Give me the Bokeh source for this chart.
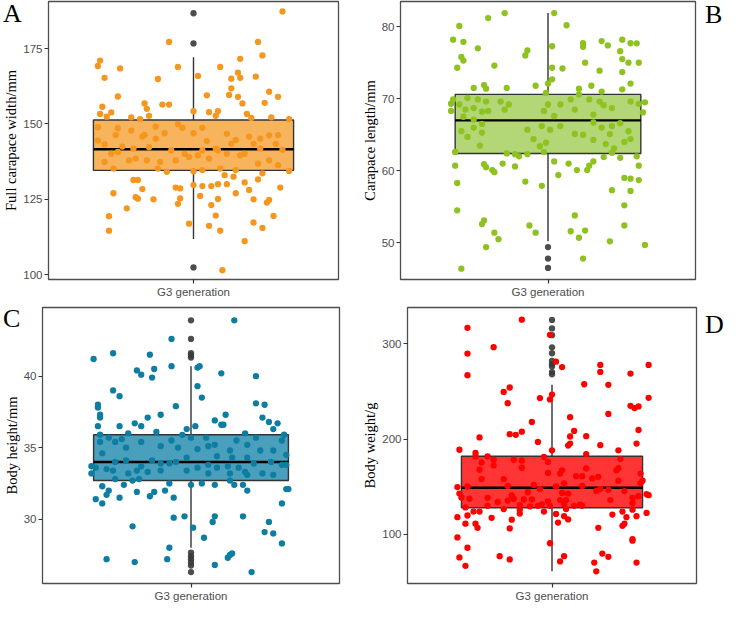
from bokeh.plotting import figure
from bokeh.models import Range1d, FixedTicker, Div
from bokeh.layouts import column, row
from bokeh.embed import file_html
from bokeh.resources import INLINE

category = "G3 generation"
panel_letters = ["A", "B", "C", "D"]

# ---------------- Panel A: Full carapace width/mm ----------------
a_label = "Full carapace width/mm"
a_ticks = [100, 125, 150, 175]
a_stats = dict(q1=134.6, med=141.6, q3=151.3, lo=111.8, hi=172.1)
a_out = [186.7, 176.7, 102.4]
a_jx = [0.40, -0.11, 0.29, -0.42, -0.43, 0.31, 0.21, -0.33, -0.07, 0.12, 0.20, 0.21, 0.02, 0.28, -0.40,
        -0.16, 0.17, 0.17, 0.34, 0.16, -0.34, 0.06, 0.20, 0.38, 0.22, 0.32, -0.22, -0.14, -0.11, -0.41,
        -0.21, 0.07, 0.11, 0.00, 0.24, -0.37, -0.42, -0.39, -0.20, -0.28, -0.24, 0.10, 0.26, 0.35, 0.43,
        -0.43, -0.34, -0.28, -0.17, -0.07, -0.05, 0.04, 0.00, -0.13, -0.22, -0.23, -0.35, 0.15, 0.25, 0.30,
        0.34, 0.38, -0.43, -0.17, 0.06, 0.19, 0.27, 0.37, -0.40, -0.32, -0.27, -0.20, -0.10, -0.04, 0.04,
        0.10, 0.11, 0.17, 0.23, 0.30, 0.40, -0.37, -0.34, -0.26, -0.21, -0.15, -0.08, -0.02, 0.02, 0.07,
        0.15, 0.21, 0.29, 0.34, 0.38, -0.40, -0.36, -0.29, -0.16, -0.12, 0.00, 0.04, 0.12, 0.19, 0.43,
        -0.27, -0.25, 0.14, 0.31, 0.18, 0.29, 0.23, 0.00, 0.04, 0.08, 0.11, 0.15, -0.08, -0.06, -0.23,
        0.25, 0.39, 0.19, -0.36, 0.03, -0.26, -0.25, -0.18, -0.06, 0.11, 0.27, 0.34, 0.33, -0.07, 0.08,
        -0.30, 0.10, -0.38, 0.36, 0.27, -0.02, 0.07, 0.31, -0.38, 0.12, 0.23, 0.13]
a_y = [187.3, 177.2, 177.2, 171.0, 169.2, 172.7, 171.6, 168.4, 168.9, 168.9, 167.0, 165.3, 165.9, 165.7, 165.3,
       164.9, 165.0, 161.8, 160.7, 159.6, 159.1, 159.5, 159.0, 159.0, 156.8, 157.0, 156.8, 156.4, 156.4, 155.7,
       155.0, 153.9, 154.2, 154.2, 153.3, 153.8, 153.3, 152.4, 152.7, 152.2, 151.6, 152.7, 152.0, 152.2, 151.6,
       148.9, 148.6, 147.8, 149.1, 150.0, 148.7, 148.7, 146.9, 146.9, 146.4, 145.8, 146.3, 146.7, 145.8, 145.1,
       146.2, 146.3, 144.5, 145.1, 144.3, 144.7, 143.4, 143.4, 143.2, 142.5, 141.8, 142.3, 141.2, 140.1, 141.2,
       141.8, 141.2, 143.4, 140.1, 141.8, 141.4, 140.1, 140.7, 138.5, 137.9, 137.4, 137.9, 139.0, 139.6, 138.5,
       140.1, 139.6, 136.8, 137.9, 136.3, 137.4, 135.2, 137.9, 135.2, 134.1, 134.3, 134.7, 135.2, 134.7, 134.4,
       131.4, 131.4, 133.0, 133.6, 132.5, 131.6, 130.6, 129.7, 129.4, 129.4, 130.0, 130.0, 128.9, 128.6, 128.4,
       128.1, 128.9, 127.0, 127.0, 126.1, 125.7, 125.2, 125.0, 125.3, 125.1, 125.0, 124.8, 123.9, 123.5, 123.1,
       122.0, 119.6, 119.4, 119.5, 117.3, 116.9, 116.2, 115.5, 114.6, 114.6, 111.1, 101.5]

# ---------------- Panel B: Carapace length/mm ----------------
b_label = "Carapace length/mm"
b_ticks = [50, 60, 70, 80]
b_stats = dict(q1=62.4, med=67.0, q3=70.6, lo=50.2, hi=81.9)
b_out = [49.4, 47.8, 46.5]
b_jx = [-0.21, 0.03, -0.29, -0.43, 0.09, -0.46, -0.41, 0.02, -0.34, 0.17, 0.17, 0.29, 0.26, 0.36, 0.40,
        0.43, 0.35, -0.10, -0.11, -0.42, -0.41, 0.36, 0.18, 0.39, 0.44, -0.44, -0.26, 0.02, 0.07, 0.25,
        0.36, 0.02, 0.40, 0.00, -0.36, -0.31, -0.30, -0.20, -0.06, 0.21, 0.15, 0.26, 0.36, -0.01, 0.15,
        -0.47, -0.46, -0.43, -0.39, -0.34, -0.30, -0.23, -0.19, 0.00, 0.06, 0.11, 0.20, 0.25, 0.27, 0.40,
        0.44, 0.47, -0.47, -0.40, -0.36, -0.32, -0.29, -0.21, -0.02, 0.13, 0.31, 0.46, -0.41, 0.03, 0.22,
        -0.36, -0.32, -0.03, 0.06, 0.22, 0.31, 0.35, -0.36, -0.32, -0.42, -0.39, -0.10, 0.01, 0.13, 0.17,
        0.26, 0.30, 0.39, -0.07, 0.22, 0.28, 0.37, 0.40, -0.33, -0.04, -0.01, 0.32, 0.31, -0.45, -0.20,
        -0.16, -0.14, -0.10, -0.02, 0.27, 0.35, 0.43, 0.03, 0.22, -0.31, -0.30, -0.22, 0.10, 0.20, -0.45,
        -0.16, 0.44, -0.27, -0.26, 0.14, 0.19, 0.05, 0.37, 0.40, 0.44, -0.11, -0.44, -0.03, 0.31, 0.40,
        0.37, -0.44, 0.13, -0.31, -0.32, -0.09, 0.37, 0.11, 0.18, -0.06, -0.26, -0.24, 0.15, 0.30, 0.47,
        -0.30, 0.17, -0.42]
b_y = [81.9, 81.9, 81.2, 80.1, 80.2, 78.2, 77.9, 77.3, 77.0, 77.7, 77.2, 77.4, 78.0, 78.2, 77.7,
       77.7, 76.6, 76.7, 76.0, 75.8, 75.3, 75.5, 75.0, 75.0, 75.0, 74.3, 74.6, 74.3, 74.2, 73.9,
       73.7, 72.7, 72.1, 72.1, 71.5, 71.9, 71.4, 71.5, 71.8, 71.8, 71.4, 71.0, 71.3, 70.8, 70.6,
       69.3, 69.9, 69.2, 70.1, 69.9, 69.6, 69.6, 69.2, 69.2, 69.2, 69.9, 69.9, 69.6, 69.1, 69.6,
       69.3, 69.5, 68.3, 68.5, 68.7, 68.2, 68.3, 68.5, 68.3, 68.5, 68.7, 68.1, 67.5, 67.6, 67.8,
       67.1, 66.5, 66.2, 66.2, 66.7, 66.2, 66.6, 66.0, 65.3, 65.5, 64.7, 65.7, 65.7, 65.1, 65.0,
       66.0, 65.1, 65.5, 64.4, 64.3, 63.7, 64.0, 64.4, 63.5, 63.4, 63.9, 63.1, 62.5, 62.6, 62.4,
       62.3, 62.0, 62.3, 62.6, 61.9, 61.8, 62.0, 61.3, 61.3, 60.9, 60.5, 61.0, 61.0, 60.7, 60.7,
       60.6, 60.7, 60.1, 59.8, 60.1, 60.1, 59.4, 59.0, 58.9, 58.7, 58.5, 58.3, 57.9, 57.3, 57.2,
       55.2, 54.5, 53.8, 53.1, 52.6, 52.4, 52.4, 51.6, 51.7, 51.4, 51.4, 50.5, 50.7, 50.2, 49.7,
       49.4, 47.8, 46.4]

# ---------------- Panel C: Body height/mm ----------------
c_label = "Body height/mm"
c_ticks = [30, 35, 40]
c_stats = dict(q1=32.7, med=34.0, q3=35.9, lo=28.0, hi=40.7)
c_out = [43.9, 42.6, 41.6, 41.45, 41.3, 27.65, 27.4, 27.2, 26.97, 26.75, 26.3]
c_jx = [0.20, -0.09, -0.45, -0.36, -0.19, -0.09, 0.03, 0.04, -0.25, -0.23, -0.17, -0.18, 0.14, 0.30, 0.03,
        -0.36, -0.33, 0.05, -0.43, -0.43, 0.30, 0.34, -0.07, -0.14, 0.16, 0.33, -0.20, 0.11, 0.36, 0.40,
        -0.42, -0.42, -0.26, 0.14, 0.15, -0.23, -0.43, -0.33, 0.02, -0.02, 0.38, -0.16, -0.29, -0.42, -0.04,
        0.43, 0.25, -0.38, -0.32, -0.09, 0.00, 0.07, 0.21, 0.30, -0.23, -0.35, 0.11, 0.26, 0.42, -0.42,
        -0.30, -0.14, -0.06, 0.03, 0.08, 0.18, 0.32, 0.38, 0.44, -0.41, -0.02, 0.12, 0.19, 0.26, -0.46,
        -0.44, -0.39, -0.35, -0.30, -0.23, -0.18, -0.14, -0.10, -0.07, 0.03, 0.08, 0.12, 0.17, 0.22, 0.29,
        0.37, 0.42, 0.44, -0.46, -0.36, -0.29, -0.25, -0.20, -0.14, -0.02, 0.08, 0.18, 0.25, 0.26, 0.33,
        0.38, -0.35, -0.27, -0.24, -0.10, 0.00, 0.05, 0.11, 0.18, 0.20, 0.24, 0.26, -0.41, -0.38, -0.31,
        0.44, 0.45, -0.12, -0.17, -0.25, -0.44, -0.39, -0.33, -0.19, -0.08, -0.41, 0.42, -0.03, 0.11, 0.10,
        0.24, 0.36, -0.08, -0.27, 0.01, 0.34, 0.38, 0.42, 0.06, -0.10, 0.19, 0.18, 0.17, -0.39, -0.11,
        -0.26, 0.11, 0.28]
c_y = [43.9, 42.6, 41.2, 41.6, 41.5, 40.7, 40.6, 40.7, 40.4, 40.1, 40.5, 39.9, 40.2, 40.0, 39.3,
       39.0, 38.6, 38.5, 38.0, 37.8, 38.1, 38.0, 37.9, 37.3, 37.3, 37.1, 37.1, 36.9, 36.8, 36.7,
       37.3, 37.1, 36.7, 36.6, 36.6, 36.5, 36.5, 36.5, 36.5, 36.3, 36.3, 36.1, 36.0, 35.9, 35.9,
       35.9, 36.0, 35.7, 35.6, 35.5, 35.7, 35.7, 35.5, 35.7, 35.4, 35.4, 35.2, 35.2, 35.5, 35.4,
       35.0, 35.1, 35.0, 34.9, 35.1, 34.8, 34.8, 34.8, 34.5, 34.6, 34.3, 34.4, 34.3, 34.3, 33.7,
       33.6, 33.5, 34.0, 34.1, 33.7, 34.1, 33.9, 33.9, 34.0, 33.6, 33.8, 33.6, 33.7, 33.6, 33.9,
       34.0, 33.8, 33.8, 33.2, 33.4, 33.2, 33.4, 33.3, 33.4, 33.4, 33.2, 33.2, 33.3, 33.1, 33.2,
       33.1, 32.8, 32.7, 32.8, 32.5, 32.4, 32.5, 32.4, 32.7, 32.4, 32.4, 32.0, 32.3, 32.0, 32.4,
       32.1, 32.1, 32.0, 31.9, 31.9, 31.4, 31.7, 31.5, 31.6, 31.5, 31.1, 31.1, 30.2, 30.2, 29.8,
       30.2, 29.8, 30.1, 29.5, 29.4, 29.1, 29.0, 28.3, 28.7, 28.0, 27.6, 27.5, 27.3, 27.2, 27.2,
       27.0, 26.8, 26.3]

# ---------------- Panel D: Body weight/g ----------------
d_label = "Body weight/g"
d_ticks = [100, 200, 300]
d_stats = dict(q1=127.9, med=148.9, q3=182.0, lo=61.4, hi=256.9)
d_out = [325.0, 316.0, 309.0, 296.2, 290.0, 282.0, 278.6, 276.0, 270.3, 268.0]
d_jx = [-0.15, -0.42, -0.01, -0.29, -0.42, 0.02, 0.05, 0.24, 0.24, 0.48, 0.39, -0.42, 0.28, 0.16, -0.21,
        -0.24, 0.00, -0.06, -0.01, 0.48, -0.22, 0.39, 0.41, 0.43, 0.28, 0.09, -0.10, 0.11, 0.43, -0.15,
        -0.21, -0.18, 0.09, 0.17, -0.36, -0.07, 0.09, 0.08, 0.24, 0.42, -0.46, 0.00, 0.33, 0.17, -0.38,
        -0.38, -0.32, -0.04, 0.34, -0.29, -0.19, -0.15, -0.02, -0.35, -0.29, 0.17, -0.15, 0.33, -0.36, 0.32,
        0.05, 0.04, 0.12, 0.15, 0.44, 0.23, 0.20, -0.02, -0.35, -0.24, 0.33, 0.06, 0.45, 0.44, -0.22,
        -0.09, -0.42, 0.02, 0.15, -0.47, -0.06, 0.24, 0.28, 0.05, 0.08, 0.22, 0.36, -0.12, -0.46, 0.47,
        0.48, -0.20, 0.43, -0.45, -0.41, -0.32, -0.19, -0.14, -0.10, 0.04, 0.07, 0.29, 0.40, -0.27, -0.22,
        -0.02, 0.06, 0.14, 0.11, 0.40, -0.32, -0.16, -0.11, -0.07, -0.05, -0.01, 0.15, -0.43, 0.07, -0.24,
        -0.16, -0.04, -0.39, -0.36, -0.16, 0.30, 0.02, 0.40, 0.35, 0.47, -0.42, -0.47, -0.30, 0.06, 0.37,
        0.42, 0.08, -0.20, 0.03, -0.43, -0.38, 0.36, -0.37, 0.35, -0.21, 0.23, -0.47, 0.40, 0.40, -0.01,
        -0.42, 0.25, -0.26, 0.06, 0.28, -0.46, -0.21, 0.04, 0.21, 0.42, -0.43, 0.22]
d_y = [325.2, 316.7, 309.3, 296.4, 289.7, 281.2, 275.5, 277.8, 270.4, 277.8, 268.7, 267.0, 256.9, 257.5, 254.1,
       249.4, 246.7, 243.0, 241.6, 243.3, 237.6, 234.9, 232.5, 234.2, 226.4, 223.0, 217.9, 208.5, 209.5, 207.8,
       205.1, 204.4, 202.7, 203.0, 201.7, 197.0, 195.3, 193.2, 193.6, 195.3, 188.8, 188.2, 188.2, 184.1, 185.4,
       181.7, 181.7, 181.4, 179.0, 178.3, 178.3, 177.3, 176.0, 175.3, 172.3, 169.2, 169.9, 169.5, 167.9, 167.2,
       167.2, 163.8, 161.1, 161.1, 163.8, 160.4, 158.7, 164.5, 158.0, 158.0, 156.3, 153.6, 156.3, 153.6, 150.9,
       151.9, 150.3, 150.3, 150.9, 149.6, 147.5, 147.5, 146.9, 143.5, 142.8, 145.5, 145.5, 144.2, 142.8, 142.1,
       141.1, 140.8, 140.1, 138.7, 137.4, 138.4, 137.4, 136.7, 136.7, 136.0, 136.0, 136.0, 138.4, 134.0, 135.4,
       134.7, 131.6, 131.3, 130.0, 132.7, 130.0, 130.6, 129.3, 130.0, 131.6, 130.0, 130.0, 128.3, 126.6, 126.6,
       125.9, 123.9, 123.9, 123.9, 121.8, 120.8, 121.5, 125.9, 123.9, 122.5, 119.8, 118.1, 117.4, 119.1, 118.1,
       119.1, 115.7, 115.4, 112.4, 111.3, 111.3, 111.3, 106.9, 109.0, 106.3, 106.9, 96.8, 93.4, 95.1, 90.7,
       86.0, 79.9, 77.2, 77.2, 76.5, 75.8, 73.8, 71.7, 70.4, 70.4, 67.0, 61.3]

# ---------------- styling ----------------
SANS = "Liberation Sans"
SERIF = "Liberation Serif"
TOTAL_W, TOTAL_H = 728, 604


def make_panel(label, ticks, stats, outliers, jx, ys, color, box_fill,
               frame_w, frame_h, borders, xr, yr):
    bl, br, bt, bb = borders
    p = figure(frame_width=frame_w, frame_height=frame_h,
               x_range=Range1d(-xr, xr), y_range=Range1d(*yr),
               output_backend="svg", toolbar_location=None, title=None,
               min_border_left=bl, min_border_right=br, min_border_top=bt, min_border_bottom=bb)
    p.background_fill_color = "white"
    p.border_fill_color = "white"
    p.outline_line_color = "#4D4D4D"
    p.outline_line_width = 1.3
    p.xgrid.visible = False
    p.ygrid.visible = False

    # box + whiskers
    p.segment(x0=[0, 0], y0=[stats["q3"], stats["q1"]], x1=[0, 0], y1=[stats["hi"], stats["lo"]],
              line_color="#333333", line_width=1.4)
    p.quad(left=[-0.45], right=[0.45], bottom=[stats["q1"]], top=[stats["q3"]],
           fill_color=box_fill, line_color="#333333", line_width=1.4)
    p.segment(x0=[-0.45], y0=[stats["med"]], x1=[0.45], y1=[stats["med"]],
              line_color="black", line_width=2.4)
    p.scatter(x=[0] * len(outliers), y=outliers, size=6.3, fill_color="#3A3A3A",
              line_color=None, fill_alpha=0.9)
    # jittered points
    p.scatter(x=jx, y=ys, size=6.3, fill_color=color, line_color=None)

    # axes
    p.xaxis.ticker = FixedTicker(ticks=[0])
    p.xaxis.major_label_overrides = {0: category}
    p.yaxis.ticker = FixedTicker(ticks=ticks)
    for ax in (p.xaxis[0], p.yaxis[0]):
        ax.axis_line_color = None
        ax.major_tick_line_color = "#333333"
        ax.major_tick_line_width = 1.2
        ax.major_tick_in = 0
        ax.major_tick_out = 4
        ax.minor_tick_line_color = None
        ax.major_label_text_font = SANS
        ax.major_label_text_font_size = "11.5px"
        ax.major_label_text_color = "#4D4D4D"
        ax.major_label_standoff = 2
    p.yaxis.axis_label = label
    p.yaxis.axis_label_text_font = SERIF
    p.yaxis.axis_label_text_font_style = "normal"
    p.yaxis.axis_label_text_font_size = "14.5px"
    p.yaxis.axis_label_text_color = "black"
    p.yaxis.axis_label_standoff = 1
    return p


pA = make_panel(a_label, a_ticks, a_stats, a_out, a_jx, a_y, "#F5961E", "#F8B45C",
                290, 278, (44, 20, 1, 23), 0.652, (98.4, 190.6))
pB = make_panel(b_label, b_ticks, b_stats, b_out, b_jx, b_y, "#8DC21F", "#B3D676",
                295, 278, (39, 40, 1, 23), 0.715, (44.9, 83.5))
pC = make_panel(c_label, c_ticks, c_stats, c_out, c_jx, c_y, "#0E7DA2", "#4A9FBD",
                297, 276, (37, 20, 5, 21), 0.686, (25.5, 44.8))
pD = make_panel(d_label, d_ticks, d_stats, d_out, d_jx, d_y, "#FF0000", "#FF3535",
                289, 276, (45, 40, 5, 21), 0.718, (48.5, 338.0))

# panel letters, overlaid on the grid as one transparent HTML layer
letter_pos = [(3, 1), (705, 2), (3, 306), (705, 312)]
spans = "".join(
    f'<span style="position:absolute;left:{x}px;top:{y}px;">{t}</span>'
    for t, (x, y) in zip(panel_letters, letter_pos)
)
overlay = Div(
    text=(f'<div style="position:relative;width:{TOTAL_W}px;height:{TOTAL_H}px;'
          f"font-family:'Liberation Serif';font-size:26px;line-height:26px;color:black;"
          f'pointer-events:none;">{spans}</div>'),
    width=TOTAL_W, height=TOTAL_H, margin=(-TOTAL_H, 0, 0, 0),
)

layout = column(row(pA, pB), row(pC, pD), overlay)

open("out.html", "w").write(file_html(layout, INLINE))
